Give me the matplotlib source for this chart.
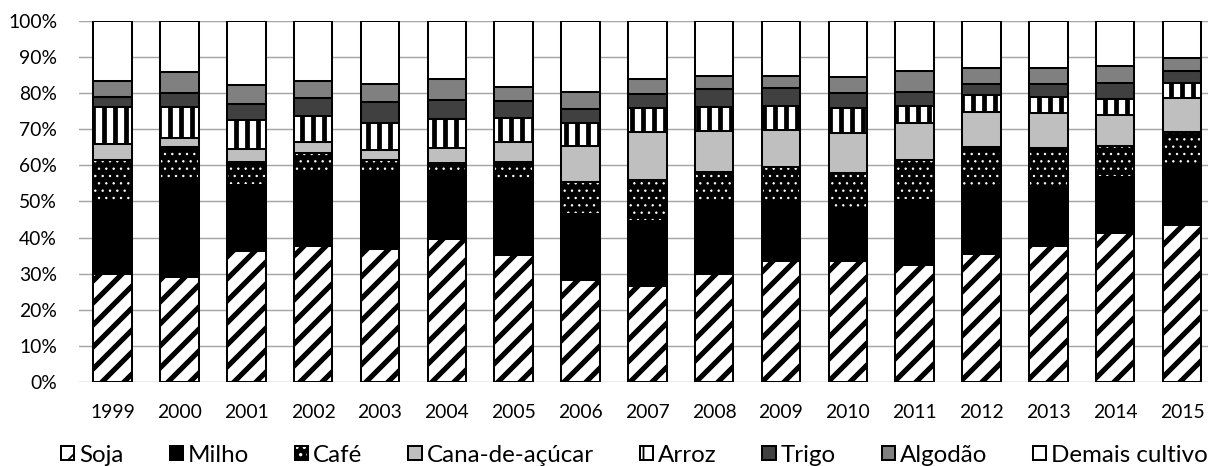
import matplotlib
matplotlib.use('Agg')
import matplotlib.pyplot as plt
from matplotlib.patches import Patch
from matplotlib.legend_handler import HandlerTuple
import numpy as np

plt.rcParams['font.family'] = ['Lato', 'DejaVu Sans']

years = [str(y) for y in range(1999, 2016)]
series_names = ['Soja', 'Milho', 'Café', 'Cana-de-açúcar', 'Arroz', 'Trigo', 'Algodão', 'Demais cultivos']

soja = [30.0, 29.2, 36.3, 37.8, 36.9, 39.5, 35.2, 28.3, 26.6, 30.0, 33.6, 33.6, 32.4, 35.5, 37.7, 41.2, 43.5]
milho = [19.5, 26.0, 18.3, 20.7, 21.3, 18.7, 20.6, 18.2, 18.1, 19.5, 15.4, 14.0, 18.0, 18.4, 16.6, 15.5, 15.7]
cafe = [12.0, 10.0, 6.4, 4.8, 3.3, 2.5, 5.2, 8.8, 11.2, 8.7, 10.6, 10.2, 11.1, 11.3, 10.4, 8.7, 10.1]
cana = [4.4, 2.4, 3.4, 3.2, 2.7, 4.0, 5.5, 10.1, 13.4, 11.4, 10.2, 11.2, 10.1, 9.6, 9.7, 8.5, 9.2]
arroz = [10.1, 8.6, 8.1, 7.2, 7.6, 8.1, 6.5, 6.4, 6.5, 6.6, 6.6, 6.9, 4.9, 4.7, 4.6, 4.4, 4.4]
trigo = [3.0, 3.9, 4.4, 5.0, 5.8, 5.3, 4.9, 3.9, 3.8, 4.9, 5.1, 4.0, 3.7, 3.0, 3.4, 4.4, 3.2]
algodao = [4.4, 5.8, 5.3, 4.7, 4.9, 5.8, 3.8, 4.7, 4.3, 3.7, 3.2, 4.6, 5.8, 4.5, 4.6, 4.8, 3.7]
demais = [16.6, 14.1, 17.8, 16.6, 17.5, 16.1, 18.3, 19.6, 16.1, 15.2, 15.3, 15.5, 14.0, 13.0, 13.0, 12.5, 10.2]

series = [soja, milho, cafe, cana, arroz, trigo, algodao, demais]

# style per series: facecolor, hatch, hatch colour, hatch linewidth
styles = [
    dict(fc='white', hatch='//', hc='black', hlw=2.8),
    dict(fc='black', hatch=None, hc='black', hlw=1.0),
    dict(fc='black', hatch='...', hc='white', hlw=0.5),
    dict(fc='#BFBFBF', hatch=None, hc='black', hlw=1.0),
    dict(fc='white', hatch='||', hc='black', hlw=2.6),
    dict(fc='#404040', hatch=None, hc='black', hlw=1.0),
    dict(fc='#808080', hatch=None, hc='black', hlw=1.0),
    dict(fc='white', hatch=None, hc='black', hlw=1.0),
]

W, H, DPI = 1208, 466, 132
fig = plt.figure(figsize=(W / DPI, H / DPI), dpi=DPI)
ax = fig.add_axes([79.2 / W, (H - 382.3) / H, (1215.4 - 79.2) / W, (382.3 - 20.7) / H])

x = np.arange(len(years))
bw = 0.575
edge_lw = 1.1
bottom = np.zeros(len(years))
handles = []


def set_hlw(artist, lw):
    if hasattr(artist, 'set_hatch_linewidth'):
        artist.set_hatch_linewidth(lw)


for vals, st in zip(series, styles):
    vals = np.array(vals)
    with plt.rc_context({'hatch.linewidth': st['hlw']}):
        if st['hatch'] is not None and st['hc'] != 'black':
            bars = ax.bar(x, vals, bw, bottom=bottom, facecolor=st['fc'],
                          edgecolor=st['hc'], hatch=st['hatch'], linewidth=0, zorder=2)
            for b in bars:
                set_hlw(b, st['hlw'])
            ax.bar(x, vals, bw, bottom=bottom, fill=False, edgecolor='black',
                   linewidth=edge_lw, zorder=3)
            h1 = Patch(facecolor=st['fc'], edgecolor=st['hc'], hatch=st['hatch'], linewidth=0)
            h2 = Patch(fill=False, edgecolor='black', linewidth=edge_lw)
            set_hlw(h1, st['hlw'])
            handles.append((h1, h2))
        else:
            bars = ax.bar(x, vals, bw, bottom=bottom, facecolor=st['fc'],
                          edgecolor='black', hatch=st['hatch'], linewidth=edge_lw, zorder=2)
            for b in bars:
                set_hlw(b, st['hlw'])
            h = Patch(facecolor=st['fc'], edgecolor='black', hatch=st['hatch'], linewidth=edge_lw)
            set_hlw(h, st['hlw'])
            handles.append(h)
    bottom = bottom + vals

ax.set_xlim(-0.5, len(years) - 0.5)
ax.set_ylim(0, 100)
ax.set_yticks(np.arange(0, 101, 10))
ax.set_yticklabels([f'{v}%' for v in range(0, 101, 10)])
ax.set_xticks(x)
ax.set_xticklabels(years)
ax.tick_params(axis='both', length=0, labelsize=10.5, colors='black')
ax.tick_params(axis='y', pad=12)
ax.tick_params(axis='x', pad=12)
ax.yaxis.grid(True, color='#A6A6A6', linewidth=0.8)
ax.set_axisbelow(True)
for s in ax.spines.values():
    s.set_visible(False)

fs = 13.2
leg = fig.legend(handles, series_names, loc='center left',
                 bbox_to_anchor=(61 / W, 1 - 455 / H), ncol=8, frameon=False,
                 fontsize=fs, handlelength=0.55, handleheight=0.55,
                 handletextpad=0.2, columnspacing=1.9, borderaxespad=0, borderpad=0,
                 handler_map={tuple: HandlerTuple(ndivide=1)})

fig.savefig('out.png', dpi=DPI)
